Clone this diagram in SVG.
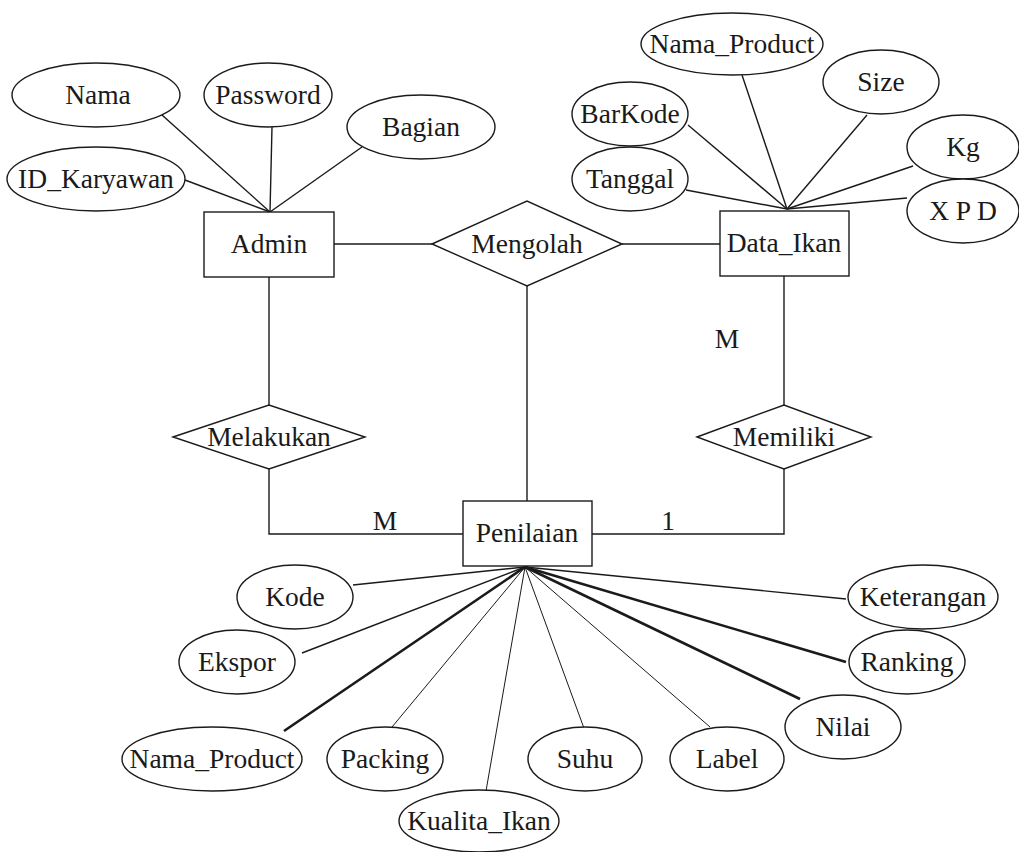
<svg xmlns="http://www.w3.org/2000/svg" width="1019" height="852" viewBox="0 0 1019 852">
  <style>
    .shape { fill: #ffffff; stroke: #1a1a1a; stroke-width: 1.4; }
    .link { fill: none; stroke: #1a1a1a; stroke-width: 1.4; }
    .thin { stroke-width: 1; }
    .bold { stroke-width: 2.6; }
    text { font-family: "Liberation Serif", "Times New Roman", serif; font-size: 27.5px; fill: #1a1a1a; text-anchor: middle; }
  </style>
  <rect width="1019" height="852" fill="#ffffff"/>

  <!-- connectors -->
  <g id="connectors">
    <!-- Admin attributes -->
    <line class="link" x1="162" y1="115" x2="270" y2="212"/>
    <line class="link" x1="272" y1="127" x2="270" y2="212"/>
    <line class="link" x1="362" y1="147" x2="270" y2="212"/>
    <line class="link" x1="185" y1="180" x2="270" y2="212"/>
    <!-- Data_Ikan attributes -->
    <line class="link" x1="742" y1="75" x2="787" y2="209"/>
    <line class="link" x1="867" y1="115" x2="787" y2="209"/>
    <line class="link" x1="688" y1="125" x2="787" y2="209"/>
    <line class="link" x1="686" y1="190" x2="787" y2="209"/>
    <line class="link" x1="913" y1="166" x2="787" y2="209"/>
    <line class="link" x1="907" y1="198" x2="787" y2="209"/>
    <!-- relationships -->
    <line class="link" x1="334" y1="244" x2="432" y2="244"/>
    <line class="link" x1="622" y1="244" x2="720" y2="244"/>
    <line class="link" x1="527" y1="286" x2="527" y2="501"/>
    <polyline class="link" points="269,277 269,405"/>
    <polyline class="link" points="269,469 269,534 463,534"/>
    <polyline class="link" points="784,276 784,405"/>
    <polyline class="link" points="784,469 784,534 592,534"/>
    <!-- Penilaian attributes -->
    <line class="link" x1="525" y1="567" x2="353" y2="585"/>
    <line class="link" x1="525" y1="567" x2="302" y2="653"/>
    <line class="link bold" x1="525" y1="567" x2="284" y2="731"/>
    <line class="link thin" x1="525" y1="567" x2="392" y2="727"/>
    <line class="link thin" x1="525" y1="567" x2="486" y2="791"/>
    <line class="link thin" x1="525" y1="567" x2="585" y2="731"/>
    <line class="link thin" x1="525" y1="567" x2="710" y2="727"/>
    <line class="link bold" x1="525" y1="567" x2="800" y2="699"/>
    <line class="link bold" x1="525" y1="567" x2="846" y2="662"/>
    <line class="link" x1="525" y1="567" x2="846" y2="599"/>
  </g>

  <!-- cardinality labels -->
  <g id="cardinality">
    <text x="385" y="530">M</text>
    <text x="668" y="530">1</text>
    <text x="727" y="348">M</text>
  </g>

  <!-- entities -->
  <g id="admin">
    <rect class="shape" x="204" y="212" width="130" height="65"/>
    <text x="269" y="253">Admin</text>
  </g>
  <g id="data-ikan">
    <rect class="shape" x="720" y="211" width="129" height="65"/>
    <text x="784" y="252">Data_Ikan</text>
  </g>
  <g id="penilaian">
    <rect class="shape" x="463" y="501" width="129" height="65"/>
    <text x="527" y="542">Penilaian</text>
  </g>

  <!-- relationships -->
  <g id="mengolah">
    <polygon class="shape" points="432,244 527,201 622,244 527,286"/>
    <text x="527" y="253">Mengolah</text>
  </g>
  <g id="melakukan">
    <polygon class="shape" points="173,437 269,405 365,437 269,469"/>
    <text x="269" y="446">Melakukan</text>
  </g>
  <g id="memiliki">
    <polygon class="shape" points="697,437 784,405 871,437 784,469"/>
    <text x="784" y="446">Memiliki</text>
  </g>

  <!-- Admin attributes -->
  <g id="attr-nama">
    <ellipse class="shape" cx="96" cy="95" rx="84" ry="32"/>
    <text x="98" y="104">Nama</text>
  </g>
  <g id="attr-password">
    <ellipse class="shape" cx="268" cy="95" rx="64" ry="32"/>
    <text x="268" y="104">Password</text>
  </g>
  <g id="attr-bagian">
    <ellipse class="shape" cx="421" cy="127" rx="74" ry="32"/>
    <text x="421" y="136">Bagian</text>
  </g>
  <g id="attr-id-karyawan">
    <ellipse class="shape" cx="96" cy="179" rx="89" ry="32"/>
    <text x="96" y="188">ID_Karyawan</text>
  </g>

  <!-- Data_Ikan attributes -->
  <g id="attr-nama-product-1">
    <ellipse class="shape" cx="732" cy="44" rx="91" ry="31"/>
    <text x="732" y="53">Nama_Product</text>
  </g>
  <g id="attr-size">
    <ellipse class="shape" cx="881" cy="82" rx="58" ry="32"/>
    <text x="881" y="91">Size</text>
  </g>
  <g id="attr-barkode">
    <ellipse class="shape" cx="630" cy="114" rx="58" ry="32"/>
    <text x="630" y="123">BarKode</text>
  </g>
  <g id="attr-tanggal">
    <ellipse class="shape" cx="630" cy="179" rx="58" ry="32"/>
    <text x="630" y="188">Tanggal</text>
  </g>
  <g id="attr-kg">
    <ellipse class="shape" cx="963" cy="147" rx="56" ry="32"/>
    <text x="963" y="156">Kg</text>
  </g>
  <g id="attr-xpd">
    <ellipse class="shape" cx="963" cy="211" rx="56" ry="32"/>
    <text x="963" y="220">X P D</text>
  </g>

  <!-- Penilaian attributes -->
  <g id="attr-kode">
    <ellipse class="shape" cx="295" cy="597" rx="58" ry="32"/>
    <text x="295" y="606">Kode</text>
  </g>
  <g id="attr-ekspor">
    <ellipse class="shape" cx="237" cy="662" rx="58" ry="32"/>
    <text x="237" y="671">Ekspor</text>
  </g>
  <g id="attr-nama-product-2">
    <ellipse class="shape" cx="212" cy="759" rx="90" ry="32"/>
    <text x="212" y="768">Nama_Product</text>
  </g>
  <g id="attr-packing">
    <ellipse class="shape" cx="385" cy="759" rx="58" ry="32"/>
    <text x="385" y="768">Packing</text>
  </g>
  <g id="attr-kualita-ikan">
    <ellipse class="shape" cx="479" cy="821" rx="80" ry="31"/>
    <text x="479" y="830">Kualita_Ikan</text>
  </g>
  <g id="attr-suhu">
    <ellipse class="shape" cx="585" cy="759" rx="57" ry="32"/>
    <text x="585" y="768">Suhu</text>
  </g>
  <g id="attr-label">
    <ellipse class="shape" cx="727" cy="759" rx="57" ry="32"/>
    <text x="727" y="768">Label</text>
  </g>
  <g id="attr-nilai">
    <ellipse class="shape" cx="843" cy="727" rx="58" ry="32"/>
    <text x="843" y="736">Nilai</text>
  </g>
  <g id="attr-ranking">
    <ellipse class="shape" cx="907" cy="662" rx="58" ry="32"/>
    <text x="907" y="671">Ranking</text>
  </g>
  <g id="attr-keterangan">
    <ellipse class="shape" cx="923" cy="597" rx="75" ry="32"/>
    <text x="923" y="606">Keterangan</text>
  </g>
</svg>
